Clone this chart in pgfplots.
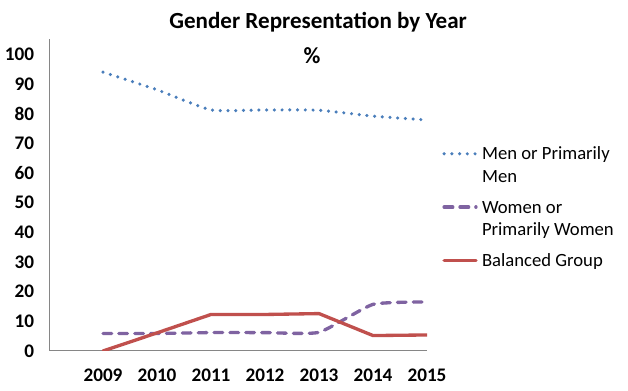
\documentclass[border=0pt]{standalone}
\usepackage{pgfplots}
\pgfplotsset{compat=1.18}
\usepackage{fontspec}
\setmainfont{Carlito}
\definecolor{menblue}{HTML}{4A7EBB}
\definecolor{wompurple}{HTML}{7F63A1}
\definecolor{balred}{HTML}{C0504D}
\definecolor{axgray}{HTML}{868686}
\newcommand{\legtab}[1]{\begin{tabular}[t]{@{}l@{}}#1\end{tabular}}
\begin{document}
\begin{tikzpicture}
\path[use as bounding box] (0,0) rectangle (471pt,293.25pt);
\begin{axis}[
  at={(36.75pt,30pt)}, anchor=south west,
  scale only axis, width=283.5pt, height=233.8pt,
  xmin=-1, xmax=6, ymin=0, ymax=105,
  axis x line=bottom, axis y line=left,
  axis line style={draw=axgray, line width=0.75pt, -},
  xtick={0,1,2,3,4,5,6},
  xticklabels={2009,2010,2011,2012,2013,2014,2015},
  ytick={0,10,20,30,40,50,60,70,80,90,100},
  major tick length=0pt,
  tick label style={font=\fontsize{14.4}{17}\selectfont\bfseries},
  /pgf/number format/assume math mode=true,
  xticklabel style={anchor=base, yshift=-23pt},
  yticklabel style={anchor=east, xshift=-7.7pt},
  title={Gender Representation by Year},
  title style={font=\fontsize{17.3}{20}\selectfont\bfseries, at={(axis description cs:0.712,1.008)}, anchor=base, inner sep=0pt},
  legend style={draw=none, fill=none, at={(axis description cs:1.040,0.6736)}, anchor=north west,
    inner sep=0pt, row sep=4pt, column sep=1.25pt, font=\fontsize{14}{17}\selectfont,
    cells={anchor=base west, inner sep=0pt}},
  legend image code/.code={\draw[#1] (0pt,4.5pt) -- (23.9pt,4.5pt); \path[draw=none, fill=none] (0pt,-22.1pt) -- (0pt,11.9pt);},
]
\addplot[menblue, line width=2.6pt, line cap=round, dash pattern=on 0pt off 5.8pt, smooth, tension=0.3]
  coordinates {(0,93.9)(1,88)(2,81.2)(3,81.2)(4,81.1)(5,79.1)(6,77.8)};
\addlegendentry{\legtab{Men or Primarily\\Men}}
\addplot[wompurple, line width=2.5pt, line cap=round, dash pattern=on 6.5pt off 5.4pt, smooth, tension=0.3]
  coordinates {(0,5.9)(1,5.9)(2,6.2)(3,6.2)(4,6.3)(5,15.7)(6,16.5)};
\addlegendentry{\legtab{Women or\\Primarily Women}}
\addplot[balred, line width=2.5pt, line cap=round, line join=round]
  coordinates {(0,0)(1,6.1)(2,12.3)(3,12.3)(4,12.6)(5,5.2)(6,5.4)};
\addlegendentry{\legtab{Balanced Group}}
\node[font=\fontsize{17.3}{20}\selectfont\bfseries, anchor=base, inner sep=0pt] at (axis description cs:0.696,0.921) {\%};
\end{axis}
\end{tikzpicture}
\end{document}
